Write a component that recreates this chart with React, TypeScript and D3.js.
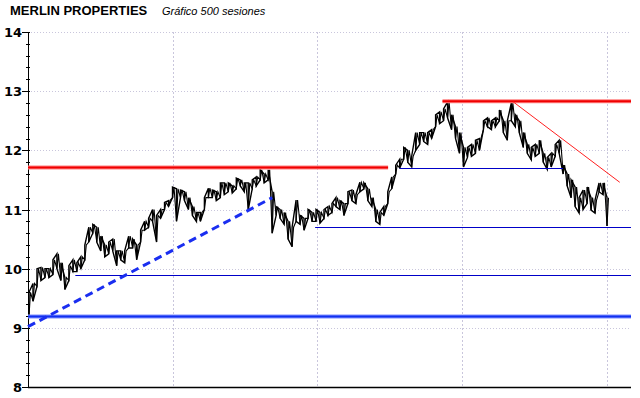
import React from "react";
import * as d3 from "d3";

// price ranges, one pair per ~3.5 sessions
const lows = [
  9.2, 9.45, 9.7, 9.8, 9.85, 9.85, 9.9, 10.0, 9.8, 9.65,
  9.8, 9.95, 9.95, 10.0, 10.15, 10.45, 10.6, 10.45, 10.3, 10.2,
  10.25, 10.3, 10.05, 10.15, 10.1, 10.35, 10.35, 10.15, 10.45, 10.65,
  10.7, 10.8, 10.45, 10.85, 11.0, 11.05, 11.2, 10.8, 11.2, 11.15,
  11.0, 10.9, 10.8, 10.8, 11.0, 11.2, 11.2, 11.15, 11.2, 11.25,
  11.3, 11.28, 11.35, 11.4, 11.3, 11.0, 11.35, 11.4, 11.5, 11.45,
  11.5, 10.6, 10.9, 10.85, 10.75, 10.5, 10.37, 10.8, 10.75, 10.65,
  10.85, 10.8, 10.8, 10.77, 10.85, 10.9, 10.95, 11.05, 11.0, 10.9,
  11.1, 11.15, 11.1, 11.3, 11.35, 11.15, 11.05, 10.8, 10.75, 10.9,
  11.1, 11.35, 11.6, 11.7, 11.85, 11.8, 11.72, 12.0, 12.1, 12.15,
  12.1, 12.2, 12.4, 12.45, 12.5, 12.55, 12.35, 12.2, 11.95, 11.72,
  11.88, 11.9, 11.95, 12.0, 12.35, 12.4, 12.35, 12.4, 12.5, 12.3,
  12.17, 12.5, 12.4, 12.3, 12.05, 11.95, 11.84, 11.9, 11.95, 11.8,
  11.68, 11.72, 11.9, 11.95, 11.6, 11.4, 11.2, 11.05, 10.94, 11.0,
  11.1, 10.99, 10.94, 11.3, 11.25, 10.72,
];
const highs = [
  9.6, 9.75, 10.0, 10.02, 10.0, 10.0, 10.15, 10.25, 10.1, 9.85,
  10.05, 10.15, 10.1, 10.2, 10.4, 10.7, 10.75, 10.7, 10.55, 10.4,
  10.45, 10.5, 10.3, 10.3, 10.3, 10.55, 10.5, 10.4, 10.65, 10.8,
  10.85, 11.0, 10.9, 11.0, 11.12, 11.15, 11.38, 11.35, 11.33, 11.3,
  11.2, 11.05, 10.95, 10.95, 11.2, 11.36, 11.33, 11.3, 11.45, 11.45,
  11.45, 11.4, 11.53, 11.5, 11.45, 11.45, 11.5, 11.55, 11.67, 11.6,
  11.67, 11.3, 11.05, 11.0, 10.95, 10.8, 10.7, 11.16, 10.9, 10.85,
  11.0, 10.95, 11.0, 10.95, 11.0, 11.05, 11.1, 11.2, 11.15, 11.1,
  11.3, 11.33, 11.25, 11.46, 11.45, 11.35, 11.2, 11.0, 10.95, 11.05,
  11.3, 11.55, 11.75, 11.85, 12.05, 12.0, 11.9, 12.3, 12.3, 12.3,
  12.3, 12.35, 12.6, 12.65, 12.7, 12.82, 12.6, 12.4, 12.3, 12.05,
  12.05, 12.1, 12.17, 12.2, 12.5, 12.55, 12.5, 12.55, 12.68, 12.5,
  12.5, 12.8, 12.6, 12.5, 12.3, 12.1, 12.05, 12.1, 12.17, 11.95,
  11.88, 11.95, 12.1, 12.17, 11.75, 11.6, 11.5, 11.38, 11.2, 11.33,
  11.38, 11.2, 11.16, 11.45, 11.45, 11.2,
];

const yTicks = [8, 9, 10, 11, 12, 13, 14];
const xGrid = [124, 249, 374, 499];
const SESSIONS = 500;

// drawn lines: [session from, value from, session to, value to]
const redThick = [
  [-1, 11.71, 310, 11.71],
  [357, 12.83, 520, 12.83],
];
const redThin = [[418, 12.82, 510, 11.46]];
const blueThick = [[-1, 9.19, 520, 9.19]];
const blueDashed = [[-1, 9.02, 210, 11.2]];
const thinSupports = [
  [320, 11.7, 461, 11.7],
  [247, 10.71, 520, 10.71],
  [40, 9.89, 520, 9.89],
];

export default function App() {
  const left = 28;
  const right = 631;
  const top = 32;
  const bottom = 387;

  const x = d3.scaleLinear().domain([0, SESSIONS - 1]).range([29, 607]);
  const y = d3.scaleLinear().domain([8, 14]).range([bottom, top]);
  const minor = d3.range(8, 14.001, 0.2);

  const n = lows.length;
  const sess = (k: number) => (k * (SESSIONS - 1)) / (n - 1);
  // band outline with vertical bars
  const band = d3.path();
  // diagonal saw between bars
  const saw = d3.path();
  lows.forEach((lo, k) => {
    const hi = highs[k];
    const px = x(sess(k));
    const a = k % 2 === 0 ? lo : hi;
    const b = k % 2 === 0 ? hi : lo;
    if (k === 0) band.moveTo(px, y(a));
    else band.lineTo(px, y(a));
    band.lineTo(px, y(b));
    if (k === 0) saw.moveTo(px, y(lo));
    else saw.lineTo(px, y(lo));
    saw.lineTo(px + 1.5, y(hi));
  });

  const seg = (s: number[]) => ({
    x1: Math.max(left, Math.min(right, x(s[0]))),
    y1: y(s[1]),
    x2: Math.max(left, Math.min(right, x(s[2]))),
    y2: y(s[3]),
  });
  const hseg = (s: number[]) => {
    const r = seg(s);
    const yy = Math.round(r.y1) + 0.5;
    return { ...r, y1: yy, y2: yy };
  };

  return (
    <div style={{ position: "absolute", left: 0, top: 0 }}>
      <svg width={640} height={398} style={{ display: "block", background: "#fff" }}>
        <text x={10} y={15} fontFamily="Liberation Sans, Arial" fontWeight="bold" fontSize={13} fill="#000">
          MERLIN PROPERTIES
        </text>
        <text x={162} y={15} fontFamily="Liberation Sans, Arial" fontStyle="italic" fontSize={11} fill="#000">
          Gráfico 500 sesiones
        </text>

        {/* grid */}
        {yTicks.filter((t) => t > 8).map((t) => (
          <line key={"gy" + t} x1={left} x2={right} y1={Math.round(y(t)) + 0.5} y2={Math.round(y(t)) + 0.5} stroke="#c9c6dc" strokeDasharray="1,2" />
        ))}
        {xGrid.map((s) => (
          <line key={"gx" + s} x1={Math.round(x(s)) + 0.5} x2={Math.round(x(s)) + 0.5} y1={top} y2={bottom} stroke="#c9c6dc" strokeDasharray="2,2" />
        ))}

        {/* axes */}
        <line x1={left + 0.5} x2={left + 0.5} y1={top} y2={bottom} stroke="#000" />
        <line x1={left} x2={right} y1={bottom + 0.5} y2={bottom + 0.5} stroke="#000" strokeWidth={1.5} />
        {minor.map((t, i) => (
          <line key={"mt" + i} x1={left - 2} x2={left + 2} y1={Math.round(y(t)) + 0.5} y2={Math.round(y(t)) + 0.5} stroke="#000" />
        ))}
        {yTicks.map((t) => (
          <g key={"yt" + t}>
            <line x1={left - 6} x2={left} y1={Math.round(y(t)) + 0.5} y2={Math.round(y(t)) + 0.5} stroke="#000" />
            <text x={22} y={y(t) + 5} textAnchor="end" fontFamily="DejaVu Sans, Verdana" fontWeight="bold" fontSize={13} fill="#000">
              {t}
            </text>
          </g>
        ))}

        {/* price */}
        <path d={saw.toString()} fill="none" stroke="#000" strokeWidth={1.1} />
        <path d={band.toString()} fill="none" stroke="#000" strokeWidth={1.4} />

        {/* trend lines */}
        {blueThick.map((s, i) => (
          <g key={"bt" + i}>
            <line {...seg(s)} stroke="#8090ff" strokeWidth={4} />
            <line {...seg(s)} stroke="#1030f0" strokeWidth={2} />
          </g>
        ))}
        {thinSupports.map((s, i) => (
          <line key={"ts" + i} {...hseg(s)} stroke="#0000c8" strokeWidth={1.2} />
        ))}
        {blueDashed.map((s, i) => (
          <line key={"bd" + i} {...seg(s)} stroke="#1a2ef0" strokeWidth={3} strokeDasharray="8,5" />
        ))}
        {redThick.map((s, i) => (
          <g key={"rt" + i}>
            <line {...seg(s)} stroke="#ff8080" strokeWidth={4} />
            <line {...seg(s)} stroke="#f00000" strokeWidth={2} />
          </g>
        ))}
        {redThin.map((s, i) => (
          <line key={"rn" + i} {...seg(s)} stroke="#ff2020" strokeWidth={1} />
        ))}
      </svg>
    </div>
  );
}
